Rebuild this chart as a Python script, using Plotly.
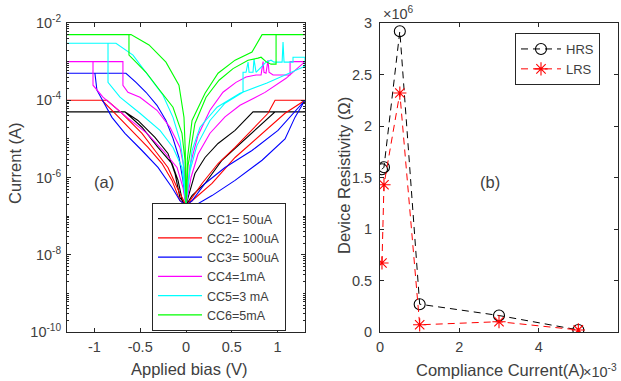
import plotly.graph_objects as go

W, H = 621, 381

# ---------------- Panel (a): I-V curves (V in volts, I in amperes) ----------------
cc1_v = [0, -0.033, -0.087, -0.153, -0.306, -0.481, -0.667, -1.3,
         -0.667, -0.525, -0.339, -0.197, -0.12, -0.066, 0,
         0.066, 0.208, 0.393, 0.59, 0.809, 0.973, 1.3,
         0.732, 0.536, 0.35, 0.208, 0.098, 0.022, 0]
cc1_i = [1.9e-7, 2.1e-7, 8.4e-7, 2.3e-6, 6e-6, 2e-5, 5e-5, 5e-5,
         5e-5, 3e-5, 1.09e-5, 4.2e-6, 1.27e-6, 3e-7, 1.9e-7,
         3.4e-7, 7e-7, 2.8e-6, 7.6e-6, 2.2e-5, 5e-5, 5e-5,
         5e-5, 1.66e-5, 7.6e-6, 3.3e-6, 1.27e-6, 3e-7, 1.9e-7]

cc2_v = [0, -0.066, -0.153, -0.262, -0.415, -0.59, -0.776, -0.918, -1.3,
         -0.863, -0.699, -0.481, -0.339, -0.197, -0.098, 0,
         0.066, 0.284, 0.536, 0.831, 1.082, 1.3,
         0.973, 0.896, 0.721, 0.536, 0.35, 0.175, 0.022, 0]
cc2_i = [1.9e-7, 2.5e-7, 8.4e-7, 2.3e-6, 6e-6, 1.66e-5, 4.6e-5, 1e-4, 1e-4,
         1e-4, 4.6e-5, 1.39e-5, 5e-6, 1.82e-6, 5.5e-7, 1.9e-7,
         2.5e-7, 7e-7, 3.3e-6, 1.39e-5, 4.6e-5, 1e-4,
         1e-4, 4.6e-5, 1.66e-5, 6e-6, 2.3e-6, 7e-7, 2.1e-7, 1.9e-7]

cc3_v = [0, -0.066, -0.153, -0.306, -0.481, -0.667, -0.809, -0.907, -0.973, -0.995, -1.3,
         -0.656, -0.546, -0.437, -0.317, -0.219, -0.142, -0.077, -0.033, 0,
         0.098, 0.284, 0.536, 0.831, 1.082, 1.19, 1.3,
         1.005, 0.721, 0.426, 0.208, 0.066, 0]
cc3_i = [1.9e-7, 2.5e-7, 5.5e-7, 1.82e-6, 5e-6, 1.39e-5, 3.6e-5, 1e-4, 1.82e-4, 5e-4, 5e-4,
         5e-4, 2.9e-4, 1.61e-4, 7.4e-5, 3e-5, 1.03e-5, 3.3e-6, 8.4e-7, 1.9e-7,
         1.9e-7, 3.4e-7, 8.4e-7, 2.8e-6, 1e-5, 3.6e-5, 1e-4,
         1.66e-5, 5e-6, 1.82e-6, 7e-7, 2.5e-7, 1.9e-7]

cc4_v = [0, -0.033, -0.098, -0.251, -0.426, -0.645, -0.907, -1.016, -1.016, -1.3,
         -0.689, -0.689, -0.634, -0.503, -0.317, -0.175, -0.066, -0.022, 0,
         0.055, 0.131, 0.262, 0.426, 0.59, 0.863, 1.093, 1.3,
         1.137, 1.137, 0.951, 0.907, 0.896, 0.874, 0.852, 0.842, 0.82, 0.765,
         0.656, 0.546, 0.404, 0.262, 0.131, 0.044, 0]
cc4_i = [1.9e-7, 5.5e-7, 1.82e-6, 5e-6, 1.39e-5, 3.6e-5, 1.2e-4, 2.45e-4, 1e-3, 1e-3,
         1e-3, 2.45e-4, 1.61e-4, 1.2e-4, 5.5e-5, 2e-5, 6e-6, 1.82e-6, 1.9e-7,
         1e-6, 4e-6, 1.4e-5, 3.7e-5, 7.4e-5, 1.6e-4, 3.7e-4, 1e-3,
         1e-3, 4.5e-4, 4.5e-4, 5.3e-4, 1.09e-3, 5e-4, 5.3e-4, 1e-3, 4.5e-4, 4.5e-4,
         4e-4, 2.9e-4, 1.61e-4, 5.5e-5, 1.23e-5, 2.05e-6, 1.9e-7]

cc5_v = [0, -0.044, -0.142, -0.284, -0.503, -0.721, -0.852, -0.852, -1.3,
         -0.765, -0.579, -0.437, -0.251, -0.142, -0.066, -0.033, 0,
         0.066, 0.153, 0.339, 0.59, 0.885, 1.3, 1.3,
         1.169, 1.169, 1.071, 1.06, 1.05, 0.962, 0.929, 0.874, 0.842, 0.765,
         0.743, 0.732, 0.689, 0.678, 0.656, 0.623, 0.623,
         0.426, 0.262, 0.12, 0.044, 0]
cc5_i = [1.9e-7, 1.82e-6, 6e-6, 1.66e-5, 4.6e-5, 1.2e-4, 2.9e-4, 3e-3, 3e-3,
         3e-3, 1.48e-3, 5.3e-4, 1.35e-4, 3.6e-5, 9.1e-6, 2.8e-6, 1.9e-7,
         5e-6, 2e-5, 6.6e-5, 1.52e-4, 2.8e-4, 7.6e-4, 1.3e-3,
         1.3e-3, 9.7e-4, 9.7e-4, 3.2e-3, 9.7e-4, 9.7e-4, 1.09e-3, 9.7e-4, 8.1e-4, 5.3e-4,
         1.16e-3, 5.3e-4, 5.3e-4, 9.7e-4, 5.3e-4, 5.3e-4, 1.61e-4,
         8.4e-5, 3e-5, 6.8e-6, 1.52e-6, 1.9e-7]

cc6_v = [0, -0.011, -0.044, -0.142, -0.295, -0.437, -0.579, -0.623, -0.623, -1.3,
         -0.601, -0.404, -0.219, -0.077, -0.022, -0.008, 0,
         0.022, 0.098, 0.219, 0.361, 0.514, 0.678, 0.787, 0.82, 0.874, 0.929, 0.984, 0.984, 1.3,
         0.831, 0.721, 0.536, 0.35, 0.208, 0.066, 0.015, 0]
cc6_i = [1.9e-7, 2.8e-6, 1.39e-5, 6.6e-5, 1.93e-4, 5.3e-4, 1.16e-3, 1.48e-3, 5e-3, 5e-3,
         5e-3, 2.7e-3, 9.7e-4, 2.45e-4, 3.6e-5, 5e-6, 1.9e-7,
         2e-6, 2.5e-5, 1.2e-4, 3.3e-4, 6.6e-4, 1.09e-3, 1.23e-3, 1.3e-3, 1e-3, 8.6e-4, 8.6e-4, 5e-3, 5e-3,
         5e-3, 1.77e-3, 1.09e-3, 5e-4, 1.52e-4, 3e-5, 3e-6, 1.9e-7]

iv_names = ["CC1= 50uA", "CC2= 100uA", "CC3= 500uA", "CC4=1mA", "CC5=3 mA", "CC6=5mA"]
iv_colors = ["#000000", "#ff0000", "#0000ff", "#ff00ff", "#00ffff", "#00ff00"]
iv_v = [cc1_v, cc2_v, cc3_v, cc4_v, cc5_v, cc6_v]
iv_i = [cc1_i, cc2_i, cc3_i, cc4_i, cc5_i, cc6_i]

a_xticks = [-1, -0.5, 0, 0.5, 1]
a_xticktext = ["-1", "-0.5", "0", "0.5", "1"]
a_yticks = [1e-10, 1e-8, 1e-6, 1e-4, 1e-2]
a_yticktext = ["10<sup>-10</sup>", "10<sup>-8</sup>", "10<sup>-6</sup>", "10<sup>-4</sup>", "10<sup>-2</sup>"]

# ---------------- Panel (b): resistivity vs compliance current ----------------
cc_current = [0.05e-3, 0.1e-3, 0.5e-3, 1e-3, 3e-3, 5e-3]
hrs = [1.58e6, 1.60e6, 2.92e6, 0.27e6, 0.16e6, 0.02e6]
lrs = [0.67e6, 1.43e6, 2.32e6, 0.07e6, 0.10e6, 0.02e6]

b_xticks = [0, 0.002, 0.004, 0.006]
b_xticktext = ["0", "2", "4", "6"]
b_yticks = [0, 0.5e6, 1e6, 1.5e6, 2e6, 2.5e6, 3e6]
b_yticktext = ["0", "0.5", "1", "1.5", "2", "2.5", "3"]

FONT = "Liberation Sans, Arial, sans-serif"
AX = "#262626"
TXT = "#404040"
TICK = 14.5
LAB = 16.5

fig = go.Figure()
for name, col, v, i in zip(iv_names, iv_colors, iv_v, iv_i):
    fig.add_trace(go.Scatter(x=v, y=i, mode="lines", name=name,
                             line=dict(color=col, width=1.1),
                             xaxis="x", yaxis="y", legend="legend"))

fig.add_trace(go.Scatter(x=cc_current, y=hrs, mode="lines+markers", name="HRS",
                         line=dict(color="#000000", width=1, dash="7px,5px"),
                         marker=dict(symbol="circle-open", size=11, color="#000000",
                                     line=dict(width=1.1, color="#000000")),
                         xaxis="x2", yaxis="y2", legend="legend2"))
fig.add_trace(go.Scatter(x=cc_current, y=lrs, mode="lines+markers", name="LRS",
                         line=dict(color="#ff0000", width=1, dash="7px,5px"),
                         marker=dict(symbol="asterisk-open", size=11, color="#ff0000",
                                     line=dict(width=1.1, color="#ff0000")),
                         xaxis="x2", yaxis="y2", legend="legend2"))

common = dict(showline=True, linecolor=AX, linewidth=1, mirror="allticks",
              ticks="inside", ticklen=4, tickcolor=AX, showgrid=False, zeroline=False,
              automargin=False, tickfont=dict(family=FONT, size=TICK, color=TXT))

ydom = [1 - 332 / H, 1 - 23 / H]


def label(text, px, py, size=LAB, angle=0, xanchor="center"):
    return dict(text=text, x=px / W, y=1 - py / H, xref="paper", yref="paper",
                xanchor=xanchor, yanchor="middle", textangle=angle,
                showarrow=False, font=dict(size=size, color=TXT))


fig.update_layout(
    width=W, height=H, margin=dict(l=0, r=0, t=0, b=0),
    paper_bgcolor="white", plot_bgcolor="white",
    font=dict(family=FONT, color=TXT),
    xaxis=dict(domain=[67 / W, 305 / W], range=[-1.3, 1.3], tickvals=a_xticks,
               ticktext=a_xticktext, anchor="y", ticklabelstandoff=2, **common),
    yaxis=dict(domain=ydom, type="log", range=[-10, -2], tickvals=a_yticks,
               ticktext=a_yticktext, anchor="x",
               minor=dict(ticks="inside", ticklen=2, tickcolor=AX, dtick="D1"),
               ticklabelstandoff=2, **common),
    xaxis2=dict(domain=[380 / W, 618 / W], range=[0, 0.006], tickvals=b_xticks,
                ticktext=b_xticktext, anchor="y2", ticklabelstandoff=2, **common),
    yaxis2=dict(domain=ydom, range=[0, 3e6], tickvals=b_yticks, ticktext=b_yticktext,
                anchor="x2", ticklabelstandoff=4, **common),
    legend=dict(x=152 / W, y=1 - 203 / H, xanchor="left", yanchor="top",
                bgcolor="white", bordercolor=AX, borderwidth=1,
                font=dict(family=FONT, size=12.5, color=TXT), itemwidth=44,
                tracegroupgap=0),
    legend2=dict(x=515 / W, y=1 - 33 / H, xanchor="left", yanchor="top",
                 bgcolor="white", bordercolor=AX, borderwidth=1,
                 font=dict(family=FONT, size=13, color=TXT), itemwidth=40),
    showlegend=True,
    annotations=[
        label("Current (A)", 15, 163, angle=-90),
        label("Applied bias (V)", 189, 369),
        label("Device Resistivity (Ω)", 344, 176, angle=-90),
        label("Compliance Current(A)", 500, 370),
        label("(a)", 104, 182),
        label("(b)", 490, 182),
        label("×10<sup>6</sup>", 381, 13, size=TICK, xanchor="left"),
        label("×10<sup>-3</sup>", 581, 371, size=TICK, xanchor="left"),
    ],
)

fig.write_html("out.html", config={"displayModeBar": False},
               post_script="document.body.style.margin='0';document.body.style.padding='0';")
